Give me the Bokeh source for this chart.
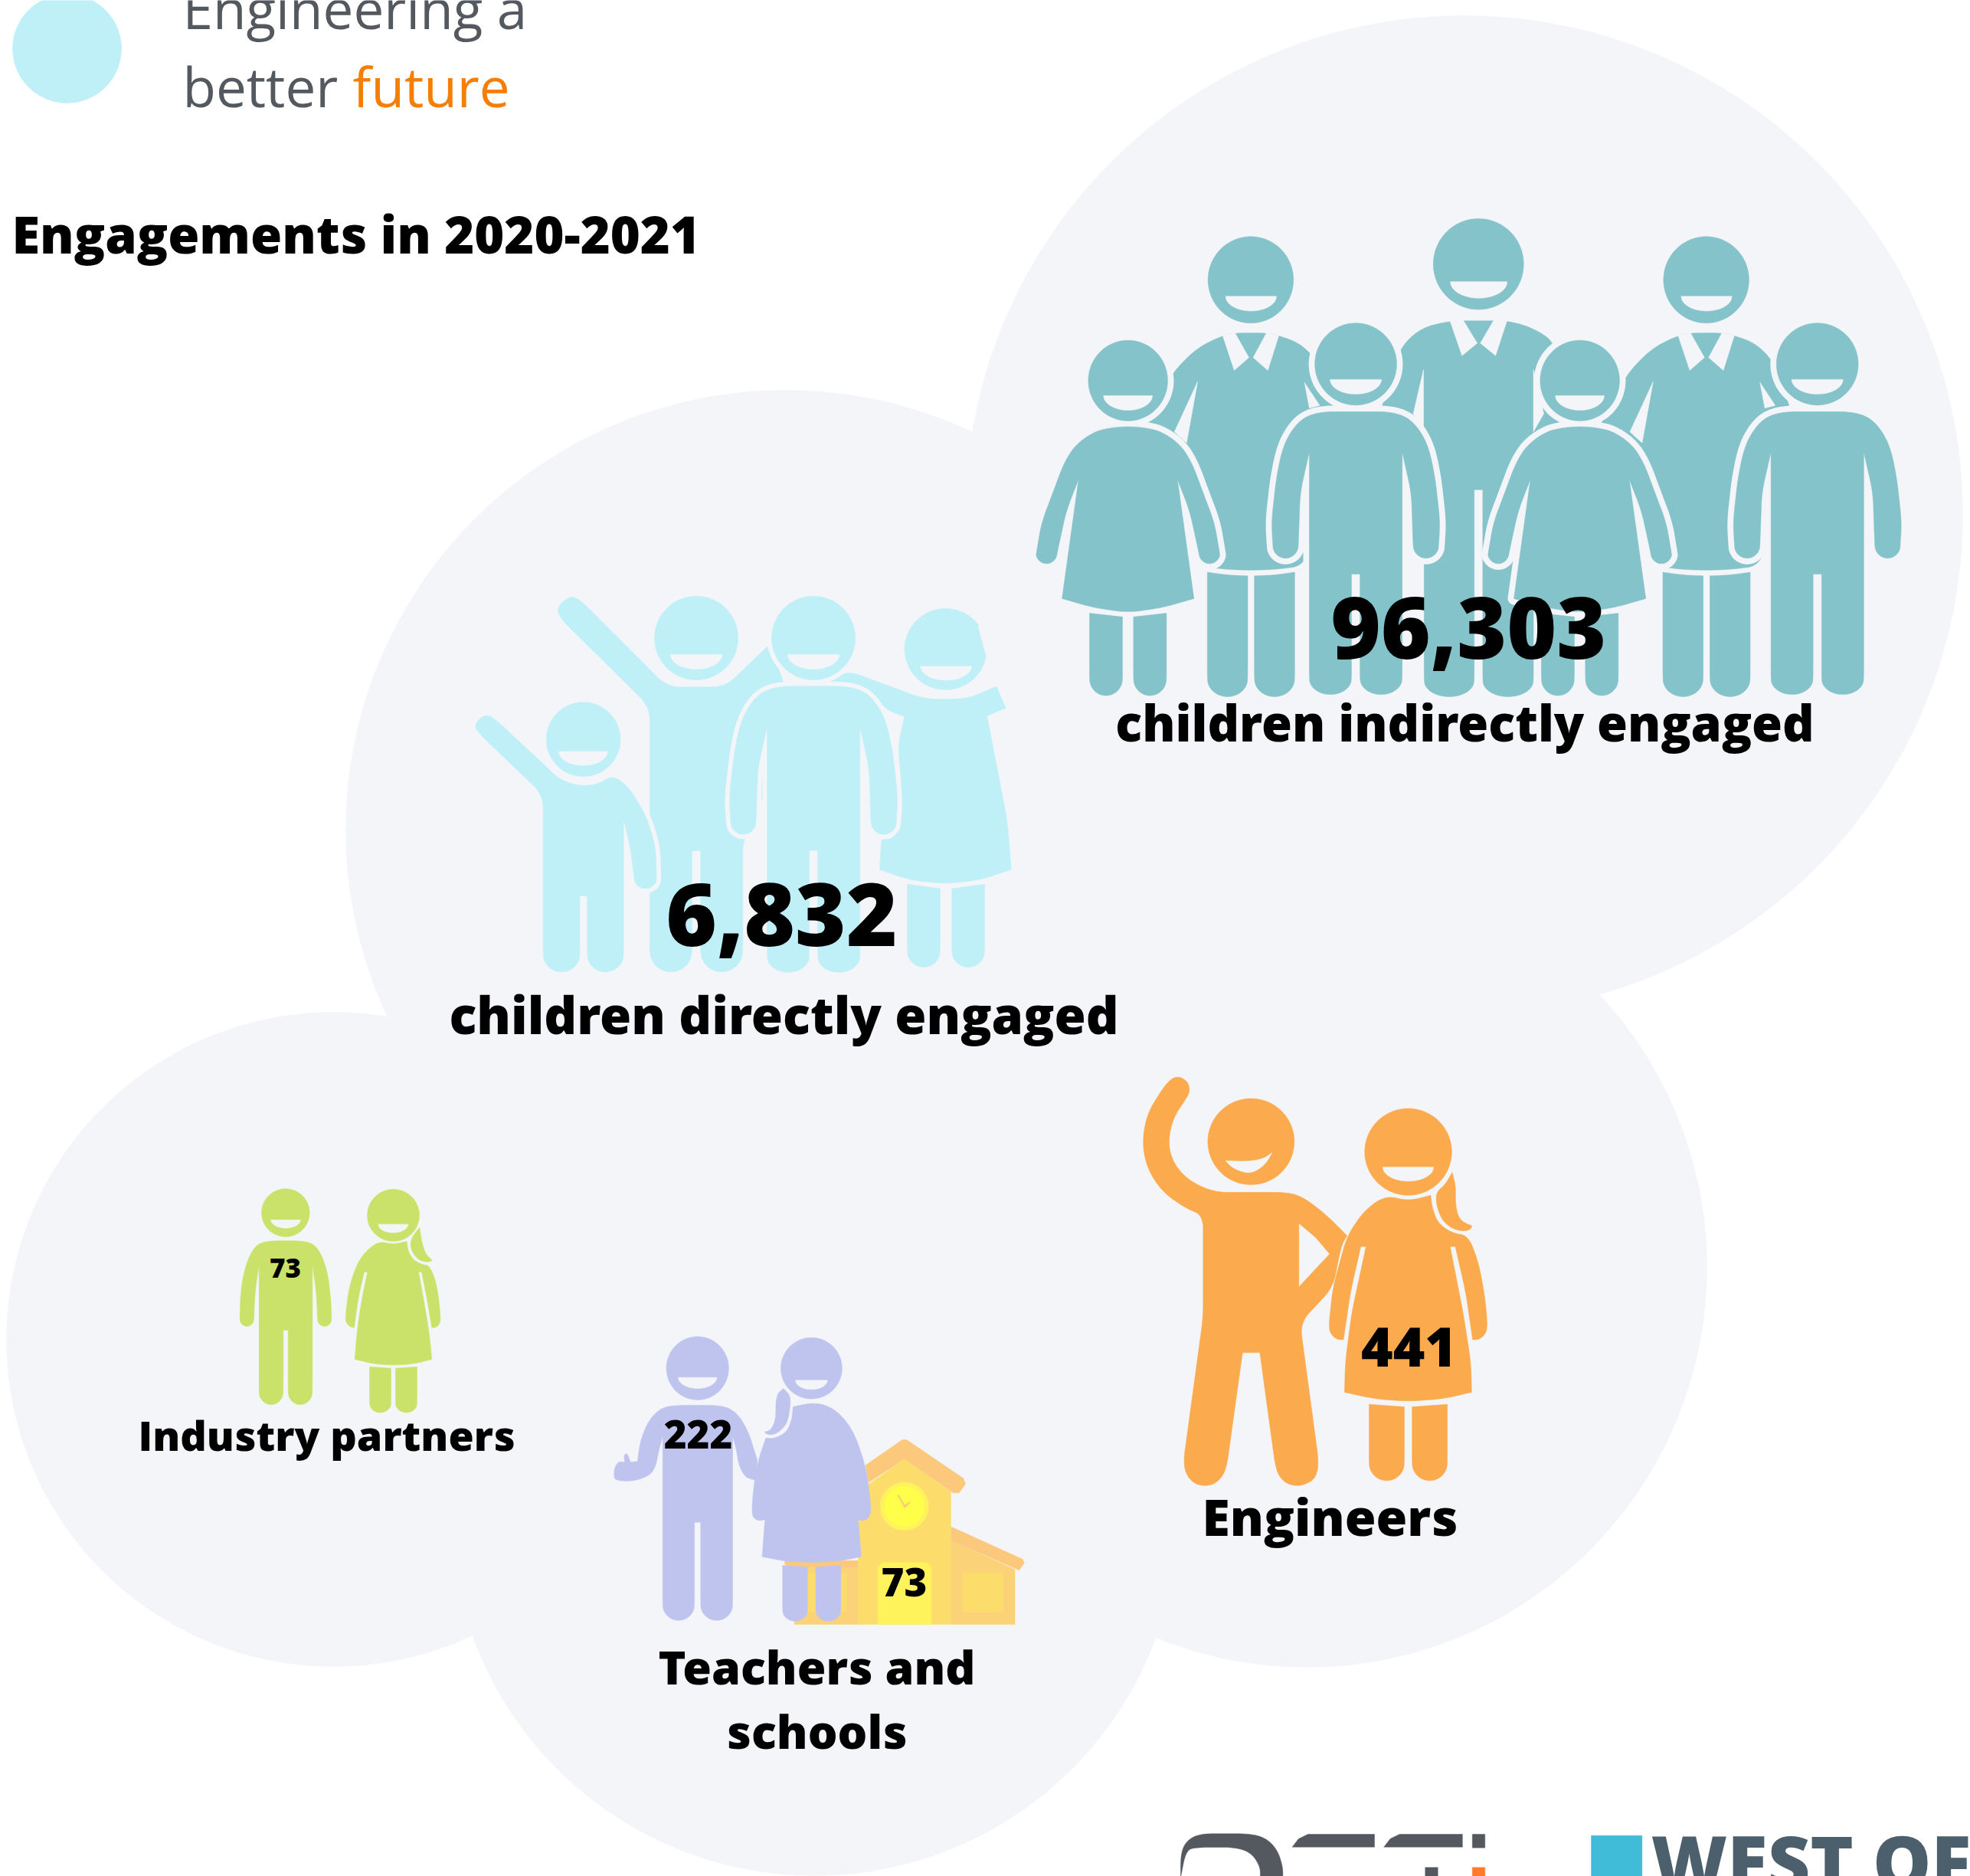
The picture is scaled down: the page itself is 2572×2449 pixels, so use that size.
import math
from bokeh.plotting import figure
from bokeh.models import Range1d
from bokeh.core.properties import value
from bokeh.embed import file_html
from bokeh.resources import INLINE

# ---- chart content ----
TITLE = "Engagements in 2020-2021"
TAGLINE_1 = "Engineering a"
TAGLINE_2 = "better "
TAGLINE_3 = "future"
INDIRECT = "96,303"
DIRECT = "6,832"
ENGINEERS = "441"
TEACHERS = "222"
SCHOOLS = "73"
PARTNERS = "73"
LAB_INDIRECT = "children indirectly engaged"
LAB_DIRECT = "children directly engaged"
LAB_ENGINEERS = "Engineers"
LAB_TEACHERS = ["Teachers and", "schools"]
LAB_PARTNERS = "Industry partners"
LOGO_TEXT = "WEST OF"

BG = "#f4f5f9"
TEAL = "#84c3c9"
SKY = "#bff0f7"
ORANGE = "#fbaa4e"
LAV = "#bfc4ee"
GREEN = "#cbe26a"
ROOF = "#fbc87c"
WALL = "#fcdd6c"
SIDE = "#fbd278"
DOOR = "#fff35c"
CLOCK = "#ffff4a"
GREY = "#54595f"
FONT = value("Open Sans ExtraBold")
FONT_REG = value("Open Sans")

W, H = 2572, 2449
p = figure(width=W, height=H, x_range=Range1d(0, W), y_range=Range1d(H, 0),
           output_backend="svg", toolbar_location=None, min_border=0,
           background_fill_color="white", border_fill_color="white", outline_line_color=None)
p.axis.visible = False
p.grid.visible = False


def Z(x0, y0, sx, sy):
    return lambda pts: [(x0 + x / sx, y0 + y / sy) for x, y in pts]


def smooth(pts, iters=3, thresh=70, maxcut=9.0):
    cos_t = math.cos(math.radians(thresh))
    for _ in range(iters):
        out = []
        n = len(pts)
        for i in range(n):
            a, b, c = pts[i - 1], pts[i], pts[(i + 1) % n]
            u = (b[0] - a[0], b[1] - a[1])
            v = (c[0] - b[0], c[1] - b[1])
            lu, lv = math.hypot(*u), math.hypot(*v)
            if lu < 1e-6 or lv < 1e-6:
                continue
            if (u[0] * v[0] + u[1] * v[1]) / (lu * lv) < cos_t:
                out.append(b)
            else:
                cu, cv = min(lu * 0.25, maxcut), min(lv * 0.25, maxcut)
                out.append((b[0] - u[0] / lu * cu, b[1] - u[1] / lu * cu))
                out.append((b[0] + v[0] / lv * cv, b[1] + v[1] / lv * cv))
        pts = out
        maxcut *= 0.5
    return pts


def ell(cx, cy, rx, ry, n=72):
    return [(cx + rx * math.cos(2 * math.pi * i / n), cy + ry * math.sin(2 * math.pi * i / n)) for i in range(n)]


def mouth(x1, x2, yt, yb, n=24):
    cx, rx = (x1 + x2) / 2, (x2 - x1) / 2
    return [(cx + rx * math.cos(math.pi * i / n), yt + (yb - yt) * math.sin(math.pi * i / n)) for i in range(n + 1)]


def cap(x1, x2, y1, y2, n=12):
    cx, rx = (x1 + x2) / 2, (x1 - x2) / 2
    return [(cx + rx * math.cos(math.pi * i / n), y1 + (y2 - y1) * math.sin(math.pi * i / n)) for i in range(n + 1)]


def fill(pts, color):
    p.patch([q[0] for q in pts], [q[1] for q in pts], fill_color=color, line_color=color, line_width=0.5)


def stroke(pts, lw):
    p.patch([q[0] for q in pts], [q[1] for q in pts], fill_color=BG, line_color=BG, line_width=lw, line_join="round")


def shape(T, pts, color):
    fill(smooth(T(pts)), color)


def outlined(T, polys, color, lw=16):
    done = [smooth(T(q)) if i else T(q) for i, q in enumerate(polys)]
    for q in done:
        stroke(q, lw)
    for q in done:
        fill(q, color)


def mirror(half):
    return half + [(-x, y) for x, y in reversed(half) if x != 0]


def shift(pts, dx):
    return [(x + dx, y) for x, y in pts]


# ---- background clouds ----
for cx, cy, r in [(1911, 671, 651), (1025, 1083, 574), (1706, 1654, 522), (435, 1748, 427), (1063, 1973, 475)]:
    fill(ell(cx, cy, r, r, 240), BG)

fill(ell(87, 63, 71, 71, 120), SKY)

# ---- teal group ----
T1 = Z(1300, 250, 1568 / 1250, 1568 / 750)
MALE = mirror([(0, 600), (56, 600), (85, 615), (105, 650), (120, 700), (130, 780), (138, 900), (136, 965)] +
              cap(136, 94, 965, 1000) + [(91, 820), (76, 710)] + cap(76, 7, 1330, 1372) + [(7, 1043)])
DRESS = mirror([(0, 640), (30, 644), (56, 655), (86, 690), (105, 740), (125, 830), (141, 900), (151, 985)] +
               cap(151, 116, 985, 1015) + [(101, 870), (81, 785), (108, 1110), (56, 1135), (0, 1148)])
LEG_F = [(9, 1160), (63, 1150)] + cap(63, 9, 1330, 1375)
BACK = [(371, 392), (391, 385), (443, 385), (463, 392), (500, 415), (530, 470), (560, 620), (505, 1020), (462, 1030),
        (417, 1033), (372, 1030), (330, 1020), (240, 640), (292, 487), (330, 425)]
BLEG1 = [(346, 1038), (380, 1046), (412, 1048)] + cap(412, 346, 1330, 1378)
BLEG2 = [(489, 1038), (455, 1046), (423, 1048)] + cap(423, 489, 1330, 1378)
for dx in (0, 746):
    fill(T1(ell(417 + dx, 240, 70, 118)), TEAL)
    fill(T1(mouth(376 + dx, 459 + dx, 285, 325)), BG)
    shape(T1, shift(BACK, dx), TEAL)
    shape(T1, shift(BLEG1, dx), TEAL)
    shape(T1, shift(BLEG2, dx), TEAL)
    for q in ([(371, 392), (390, 487), (414, 452), (391, 384)], [(463, 392), (445, 487), (421, 452), (443, 384)],
              [(330, 518), (292, 655), (312, 685)], [(505, 520), (513, 590), (530, 583)]):
        fill(T1(shift(q, dx)), BG)

fill(T1(ell(790, 197, 74, 124)), TEAL)
fill(T1(mouth(744, 837, 245, 290)), BG)
shape(T1, [(743, 352), (840, 352), (880, 372), (915, 410), (925, 640), (880, 660)] + cap(880, 797, 1335, 1378) +
      [(797, 813), (783, 813)] + cap(783, 701, 1335, 1378) + [(701, 640), (632, 585), (662, 425), (695, 372)], TEAL)
for q in ([(743, 350), (763, 447), (788, 413), (765, 350)], [(837, 350), (818, 447), (793, 413), (815, 350)],
          [(700, 485), (683, 607), (700, 640)], [(880, 485), (897, 605), (880, 655)]):
    fill(T1(q), BG)

for c in (216, 956):
    outlined(T1, [ell(c, 515, 65, 110), shift(DRESS, c),
                  shift(LEG_F, c), shift([(-x, y) for x, y in LEG_F], c)], TEAL)
    fill(T1(mouth(c - 40, c + 40, 556, 596)), BG)
for c in (589, 1345):
    outlined(T1, [ell(c, 470, 67, 112), shift(MALE, c)], TEAL)
    fill(T1(mouth(c - 42, c + 42, 512, 552)), BG)

# ---- sky group ----
T2 = Z(580, 740, 1.96, 1568 / 650)
fill(T2(ell(644, 223, 107, 132)), SKY)
fill(T2(mouth(578, 710, 275, 321)), BG)
shape(T2, [(525, 440), (295, 160), (287, 125), (320, 90), (345, 100), (570, 377), (718, 377), (825, 250), (858, 325),
           (900, 500), (763, 860)] + cap(763, 655, 1210, 1275) + [(655, 893), (633, 893)] + cap(633, 525, 1210, 1275), SKY)
fill(T2(ell(1282, 258, 105, 128)), SKY)
fill(T2([(1365, 185), (1385, 275), (1410, 230), (1390, 180)]), BG)
fill(T2(mouth(1218, 1348, 312, 356)), BG)
shape(T2, [(1228, 415), (1030, 325), (985, 362), (1030, 362), (1090, 390), (1130, 450), (1177, 470), (1160, 558), (1170, 700),
           (1170, 800), (1150, 855), (1118, 858), (1113, 952), (1190, 985), (1282, 997), (1370, 985), (1450, 952),
           (1440, 800), (1388, 468), (1436, 443), (1412, 375), (1337, 415)], SKY)
shape(T2, [(1184, 998), (1268, 1012)] + cap(1268, 1184, 1210, 1260), SKY)
shape(T2, [(1382, 998), (1298, 1012)] + cap(1298, 1382, 1210, 1260), SKY)
MALE2 = smooth([(1061.6 + x / 1.2544, 832.4 + (y - 470) / 2.0907 * 1.012) for x, y in MALE])
HEAD2 = ell(1061.6, 832.4, 54.6, 54.7)
stroke(MALE2, 12)
stroke(HEAD2, 12)
fill(MALE2, SKY)
fill(HEAD2, SKY)
fill(T2(mouth(878, 1010, 275, 321)), BG)

KID = ([(252, 717), (85, 520), (76, 495), (100, 465), (122, 470), (258, 625), (295, 670), (350, 690), (395, 682), (430, 655),
        (470, 690), (515, 780), (540, 880), (543, 980)] + cap(543, 485, 980, 1012) + [(475, 880), (458, 795)] +
       cap(458, 365, 1220, 1275) + [(365, 1035), (346, 1035)] + cap(346, 252, 1220, 1275))
stroke(smooth(T2(KID)), 12)
shape(T2, KID, SKY)
fill(T2(ell(355, 542, 95, 117)), SKY)
fill(T2(mouth(292, 417, 580, 624)), BG)

# ---- orange group ----
T3 = Z(1450, 1380, 1568 / 530, 1568 / 600)
fill(T3(ell(541, 287, 167, 147)), ORANGE)
shape(T3, [(443, 352), (530, 355), (590, 345), (622, 325), (600, 360), (565, 385), (530, 395), (490, 385), (460, 370)], BG)
shape(T3, [(400, 460), (680, 460), (740, 475), (830, 535), (912, 608), (890, 640), (857, 785), (730, 905), (803, 1385),
           (790, 1435), (755, 1455), (720, 1462), (680, 1455), (650, 1430), (635, 1395), (575, 1007), (508, 1007), (447, 1395),
           (430, 1430), (400, 1455), (363, 1462), (325, 1455), (295, 1430), (279, 1385), (356, 885), (356, 538), (290, 515),
           (200, 460), (140, 380), (120, 290), (140, 190), (215, 85), (255, 62), (295, 80), (305, 110), (295, 135), (240, 205),
           (220, 290), (240, 360), (300, 420)], ORANGE)
fill(T3([(727, 568), (790, 615), (843, 670), (727, 780)]), BG)
fill(T3(ell(1148, 322, 168, 148)), ORANGE)
fill(T3(mouth(1050, 1246, 374, 422)), BG)
shape(T3, [(1062, 470), (1148, 490), (1235, 470), (1240, 510), (1262, 565), (1320, 600), (1380, 607), (1420, 700), (1445, 820),
           (1455, 925), (1440, 950), (1420, 962), (1397, 963), (1370, 800), (1330, 645), (1310, 645), (1360, 870), (1390, 1040),
           (1393, 1142), (1280, 1165), (1148, 1173), (1020, 1165), (902, 1142), (905, 1040), (930, 870), (985, 645), (965, 645),
           (925, 800), (898, 963), (875, 962), (855, 950), (840, 925), (857, 785), (912, 608), (980, 520)], ORANGE)
shape(T3, [(1255, 460), (1290, 435), (1318, 392), (1332, 440), (1330, 500), (1345, 555), (1395, 575), (1385, 590), (1340, 592),
           (1285, 565), (1258, 510)], ORANGE)
shape(T3, [(997, 1183), (1133, 1192)] + cap(1133, 997, 1385, 1444), ORANGE)
shape(T3, [(1163, 1192), (1299, 1183)] + cap(1299, 1163, 1385, 1444), ORANGE)

# ---- house + lavender group ----
T4 = Z(780, 1720, 1568 / 580, 3)
fill(T4([(694, 960), (919, 960), (919, 1200), (694, 1200)]), SIDE)
fill(T4([(660, 950), (919, 950), (919, 975), (680, 975), (660, 965)]), ROOF)
fill(T4([(1246, 870), (1472, 985), (1472, 1200), (1246, 1200)]), SIDE)
fill(T4([(919, 680), (1082, 552), (1246, 680), (1246, 1200), (919, 1200)]), WALL)
fill(T4([(945, 577), (1075, 477), (1090, 477), (1290, 628), (1298, 650), (1275, 685), (1255, 685), (1082, 552), (955, 645)]), ROOF)
fill(T4([(1247, 818), (1500, 945), (1505, 960), (1487, 988), (1247, 870)]), ROOF)
fill(T4([(1287, 997), (1431, 997), (1431, 1152), (1287, 1152)]), WALL)
fill(T4([(739, 997), (878, 997), (878, 1152), (739, 1152)]), WALL)
fill(T4([(989, 975), (1005, 958), (1162, 958), (1177, 975), (1177, 1200), (989, 1200)]), DOOR)
fill(T4(ell(1082, 738, 85, 94)), DOOR)
fill(T4(ell(1082, 738, 70, 78)), CLOCK)
for q in ([(1082, 742), (1058, 695), (1062, 693), (1086, 738)], [(1078, 738), (1100, 720), (1102, 724), (1084, 744)]):
    fill(T4(q), ROOF)

fill(T4(ell(352, 197, 110, 124)), LAV)
fill(T4(mouth(284, 420, 233, 276)), BG)
shape(T4, [(265, 342), (440, 342), (490, 370), (530, 440), (555, 530), (565, 560), (555, 635), (520, 625), (497, 575), (490, 520),
           (476, 462)] + cap(476, 363, 1125, 1185) + [(363, 800), (341, 800)] + cap(341, 229, 1125, 1185) +
      [(229, 462), (215, 520), (205, 580), (185, 615), (140, 635), (100, 640), (65, 635), (57, 625), (58, 590), (72, 562), (95, 565),
       (92, 540), (100, 530), (108, 540), (115, 565), (140, 562), (150, 480), (180, 400), (220, 355)], LAV)
fill(T4(ell(754, 197, 108, 120)), LAV)
fill(T4(mouth(698, 810, 244, 280)), BG)
shape(T4, [(655, 276), (681, 305), (677, 370), (665, 420), (630, 455), (600, 458), (588, 447), (610, 440), (628, 400), (628, 330),
           (635, 295)], LAV)
shape(T4, [(689, 348), (754, 332), (810, 342), (860, 380), (905, 450), (945, 580), (960, 690), (965, 760), (955, 785), (935, 795),
           (919, 790), (930, 935), (850, 953), (754, 958), (660, 953), (580, 935), (590, 790), (570, 795), (550, 785), (543, 760),
           (550, 660), (565, 560), (593, 470), (620, 473), (665, 450), (685, 400)], LAV)
shape(T4, [(652, 969), (740, 976)] + cap(740, 652, 1145, 1188), LAV)
shape(T4, [(769, 976), (858, 969)] + cap(858, 769, 1145, 1188), LAV)

# ---- green group ----
T5 = Z(290, 1530, 3, 3)
fill(T5(ell(247, 158, 94, 94)), GREEN)
fill(T5(mouth(190, 305, 186, 218)), BG)
shape(T5, [(165, 268), (330, 268), (375, 295), (410, 380), (425, 500)] + cap(427, 372, 575, 603) + [(368, 470), (352, 362)] +
      cap(352, 257, 860, 910) + [(257, 618), (238, 618)] + cap(238, 143, 860, 910) + [(143, 362), (127, 470)] +
      cap(123, 68, 575, 603) + [(70, 480), (85, 380), (120, 295)], GREEN)
fill(T5(ell(669, 168, 102, 102)), GREEN)
fill(T5(mouth(610, 727, 203, 236)), BG)
shape(T5, [(615, 270), (669, 282), (722, 270), (727, 310), (750, 345), (785, 362), (812, 365), (840, 440), (855, 570), (850, 595),
           (835, 608), (820, 608), (800, 490), (780, 390), (768, 390), (790, 510), (810, 630), (820, 732), (750, 750), (669, 755),
           (590, 750), (518, 732), (527, 620), (545, 500), (568, 390), (555, 390), (530, 500), (516, 608), (500, 605), (485, 590),
           (481, 570), (495, 450), (530, 350), (570, 300)], GREEN)
shape(T5, [(735, 262), (772, 215), (780, 270), (795, 320), (822, 345), (805, 352), (770, 345), (740, 310)], GREEN)
shape(T5, [(576, 761), (660, 767)] + cap(660, 576, 905, 941), GREEN)
shape(T5, [(678, 767), (762, 761)] + cap(762, 678, 905, 941), GREEN)

# ---- logos (cut by the page edge) ----
T6 = Z(1500, 2340, 1568 / 1072, 3)
shape(T6, [(60, 330), (60, 240), (70, 190), (95, 160), (195, 160), (225, 180), (245, 225), (255, 290), (255, 330), (212, 330),
           (212, 290), (195, 235), (165, 213), (90, 213), (70, 225)], GREY)
fill(T6([(273, 212), (285, 180), (303, 162), (430, 162), (430, 212)]), GREY)
fill(T6([(448, 212), (460, 180), (478, 162), (598, 162), (598, 212)]), GREY)
fill(T6([(617, 162), (641, 162), (641, 215), (617, 215)]), GREY)
fill(T6([(527, 292), (551, 292), (551, 330), (527, 330)]), GREY)
fill(T6([(617, 292), (641, 292), (641, 330), (617, 330)]), "#ff7a29")
fill(T6([(844, 167), (941, 167), (941, 330), (844, 330)]), "#40bcd8")


# ---- texts ----
def txt(x, y, s, size, color="black", font=FONT, style="bold", align="center", dy=0.37):
    p.text([x], [y - dy * size], text=[s], text_font=font, text_font_size=f"{size}px", text_font_style=style,
           text_color=color, text_align=align, text_baseline="alphabetic")


txt(238, 36, TAGLINE_1, 71, GREY, FONT_REG, "normal", "left")
txt(238, 138, TAGLINE_2, 71, GREY, FONT_REG, "normal", "left")
txt(460, 138, TAGLINE_3, 71, "#f57f06", FONT_REG, "normal", "left")
txt(15, 330, TITLE, 66.7, align="left")
txt(1917, 861, INDIRECT, 111)
txt(1912, 966, LAB_INDIRECT, 64.7)
txt(1020, 1236, DIRECT, 114)
txt(1023, 1349, LAB_DIRECT, 66.7)
txt(1839, 1784, ENGINEERS, 71)
txt(1736, 2003, LAB_ENGINEERS, 66)
txt(911, 1891, TEACHERS, 51)
txt(1180, 2084, SCHOOLS, 51)
txt(1066, 2198, LAB_TEACHERS[0], 61)
txt(1066, 2282, LAB_TEACHERS[1], 61)
txt(372, 1668, PARTNERS, 35)
txt(426, 1892, LAB_PARTNERS, 53.8)
txt(2155, 2464, LOGO_TEXT, 96, "#4c5f6d", align="left")

open("out.html", "w").write(file_html(p, INLINE))
